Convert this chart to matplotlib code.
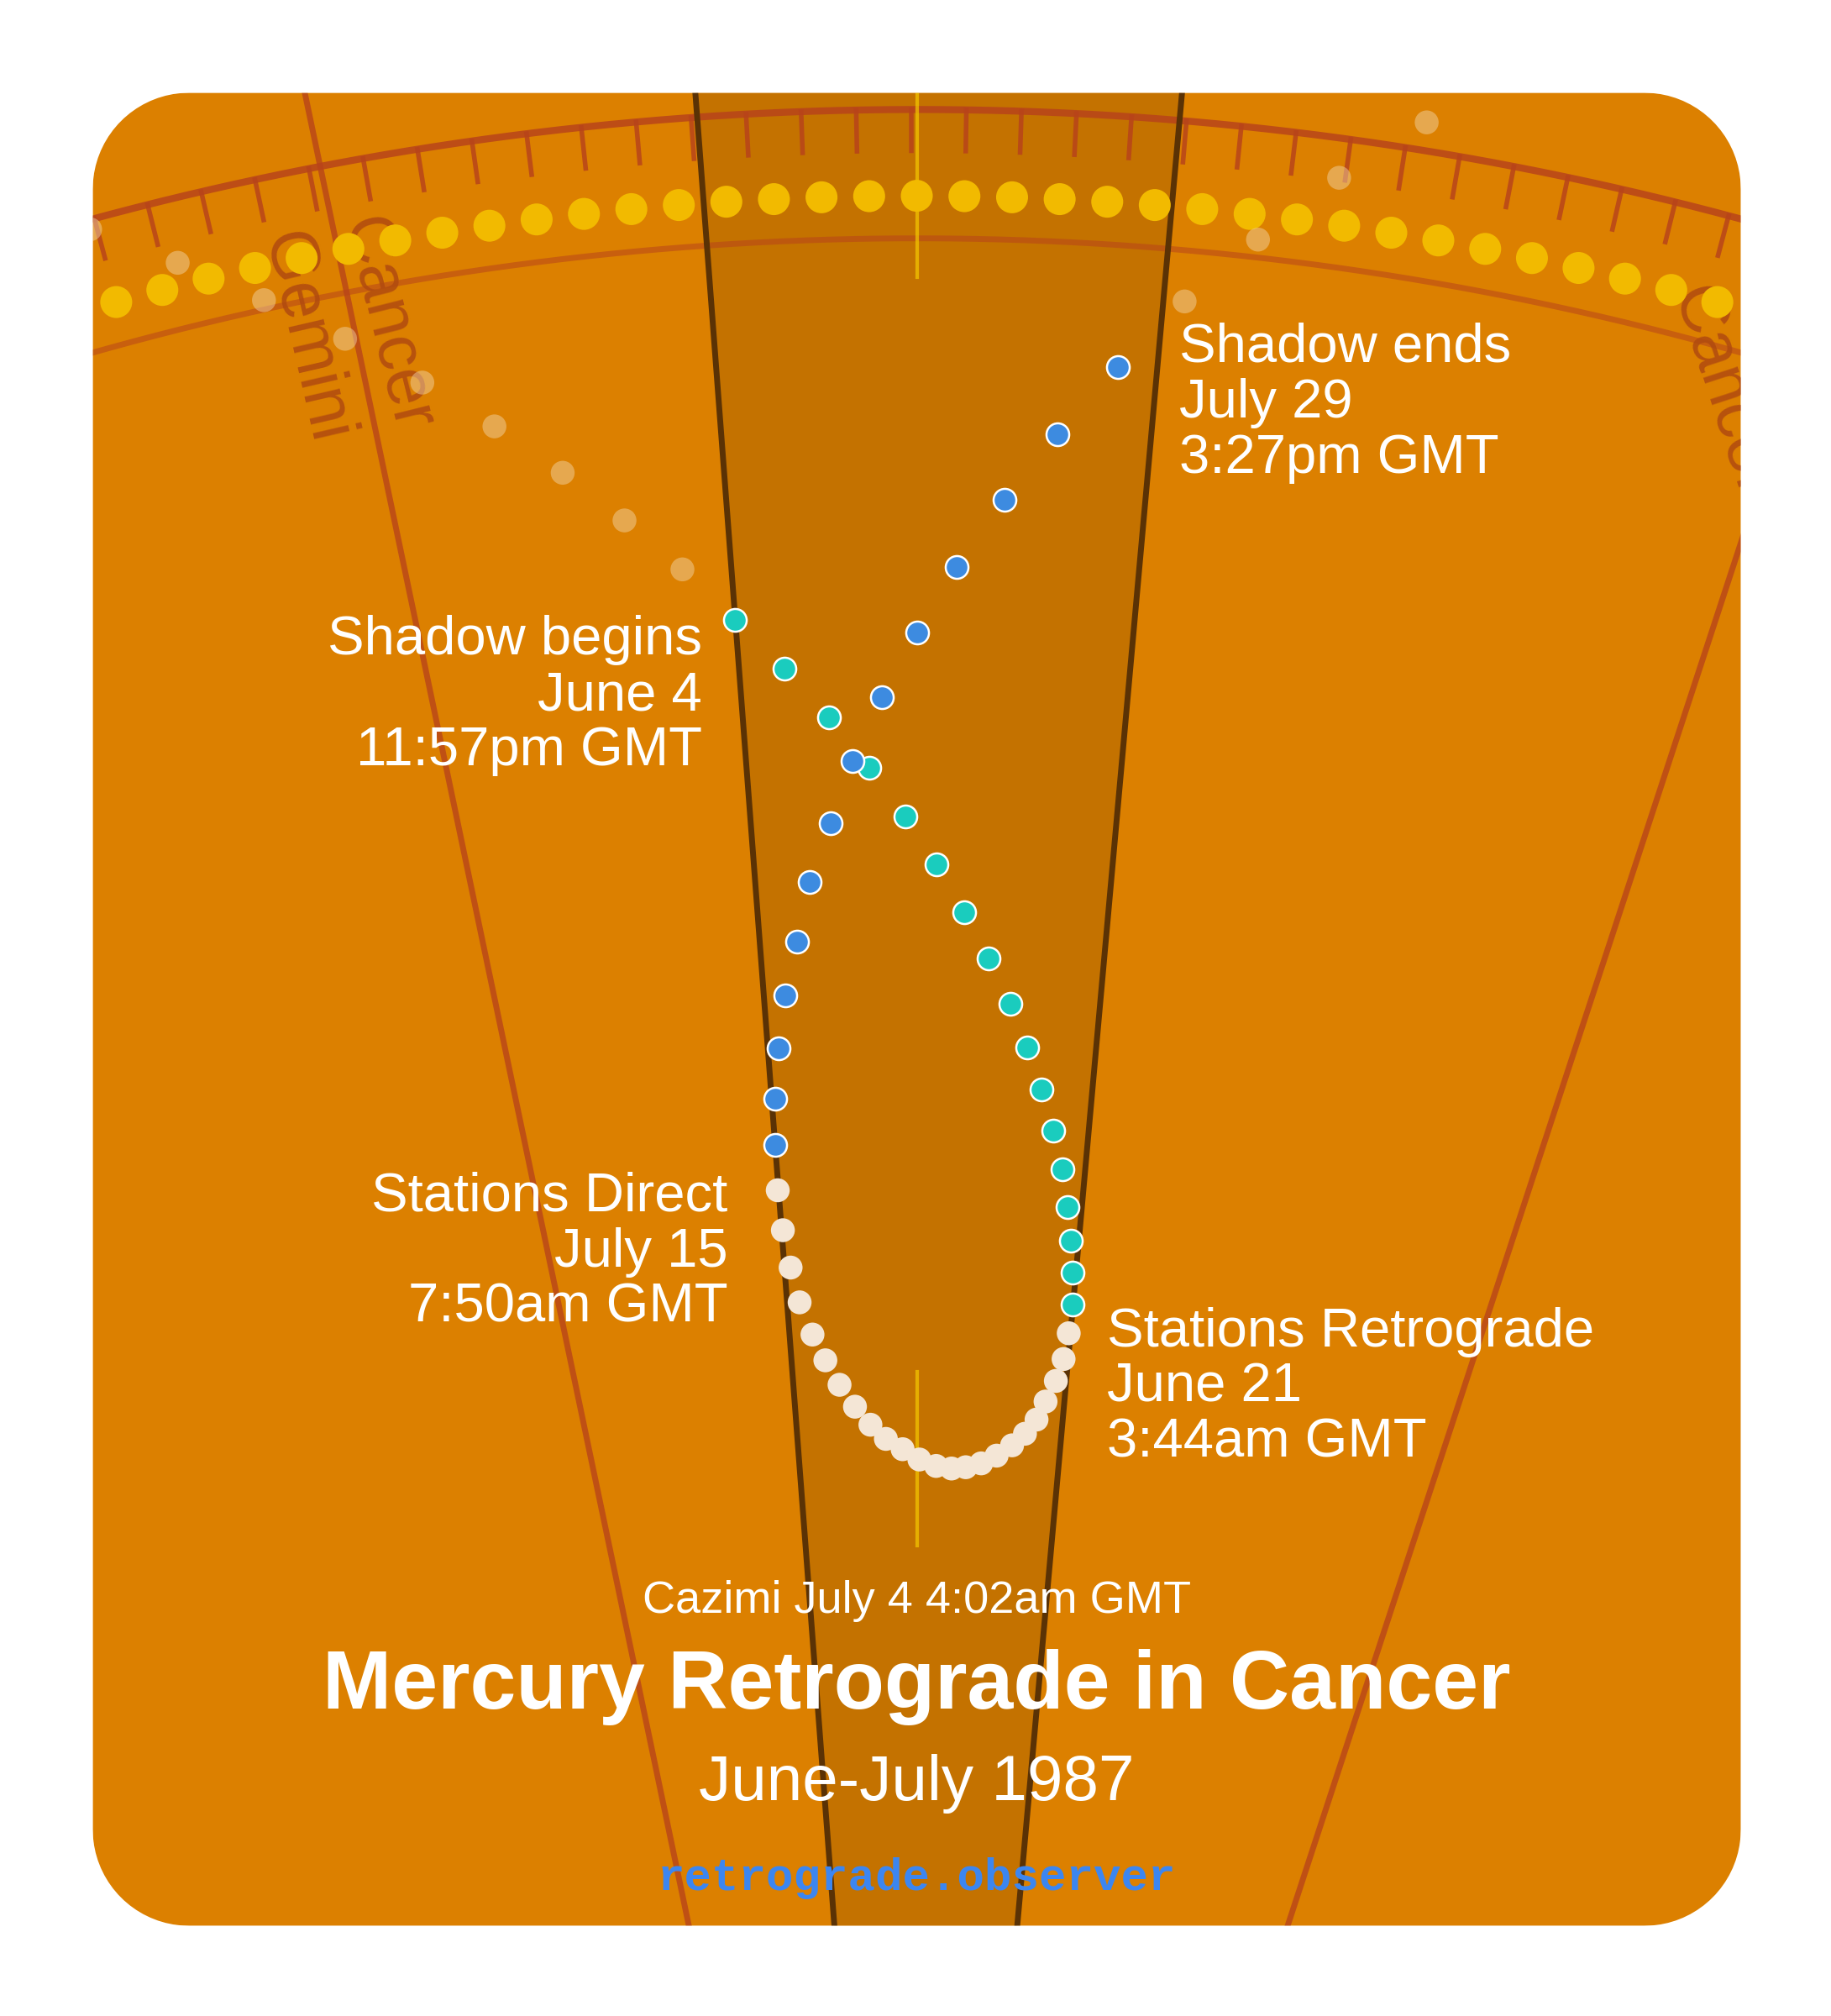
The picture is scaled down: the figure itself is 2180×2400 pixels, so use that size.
import numpy as np
import matplotlib
matplotlib.use("Agg")
import matplotlib.pyplot as plt
from matplotlib.patches import FancyBboxPatch, Polygon, PathPatch
from matplotlib.path import Path

plt.rcParams['font.family'] = ['Liberation Sans', 'DejaVu Sans']

# Mercury path (display coords of the chart)
pre_x = [70, 138, 205, 268, 328, 384, 437, 485, 530]
pre_y = [178, 204, 233, 263, 297, 331, 367, 404, 442]
post_x = [920, 977, 1040, 1108]
post_y = [234, 186, 138, 95]
teal_x = [571, 609, 644, 675, 703, 727, 749, 768, 785, 798, 809, 818, 825, 829, 832, 833, 833]
teal_y = [481, 519, 557, 596, 634, 671, 708, 744, 779, 813, 846, 878, 908, 937, 963, 988, 1013]
retro_x = [830, 826, 820, 812, 805, 796, 786, 774, 762, 750, 739, 727, 714, 701, 688, 676, 664, 652, 641, 631, 621, 614, 608, 604]
retro_y = [1035, 1055, 1072, 1088, 1102, 1113, 1122, 1130, 1136, 1139, 1140, 1138, 1133, 1125, 1117, 1106, 1092, 1075, 1056, 1036, 1011, 984, 955, 924]
blue_x = [602, 602, 605, 610, 619, 629, 645, 662, 685, 712, 743, 780, 821, 868]
blue_y = [889, 853, 814, 773, 731, 685, 639, 591, 541, 491, 440, 388, 337, 285]

labels = ["Shadow begins\nJune 4\n11:57pm GMT", "Shadow ends\nJuly 29\n3:27pm GMT",
          "Stations Direct\nJuly 15\n7:50am GMT", "Stations Retrograde\nJune 21\n3:44am GMT"]
title = "Mercury Retrograde in Cancer"
subtitle = "June-July 1987"
cazimi = "Cazimi July 4 4:02am GMT"

W, H = 1422, 1565
fig = plt.figure(figsize=(21.8, 24), dpi=100)
ax = fig.add_axes([0, 0, 1, 1])
ax.set_xlim(0, W); ax.set_ylim(H, 0); ax.axis('off')
fig.patch.set_facecolor('white')

bg = FancyBboxPatch((72, 72), 1280, 1423, boxstyle="round,pad=0,rounding_size=75",
                    fc='#DC8000', ec='none', zorder=0)
ax.add_patch(bg)
def clip(a):
    a.set_clip_on(True)
    a.set_clip_path(bg)
    return a

# white frame outside the rounded card (masks text overflow)
x0, y0, x1, y1, r = 72, 72, 1352, 1495, 75
pts = []
for (cx, cy, a0) in [(x1 - r, y0 + r, -90), (x1 - r, y1 - r, 0), (x0 + r, y1 - r, 90), (x0 + r, y0 + r, 180)]:
    for t in np.linspace(a0, a0 + 90, 20):
        pts.append((cx + r*np.cos(np.deg2rad(t)), cy + r*np.sin(np.deg2rad(t))))
inner = np.array(pts)[::-1]
outer = np.array([(-10, -10), (W + 10, -10), (W + 10, H + 10), (-10, H + 10)])
verts = np.vstack([outer, outer[:1], inner, inner[:1]])
codes = ([Path.MOVETO] + [Path.LINETO]*3 + [Path.CLOSEPOLY] +
         [Path.MOVETO] + [Path.LINETO]*(len(inner) - 1) + [Path.CLOSEPOLY])
ax.add_patch(PathPatch(Path(verts, codes), fc='white', ec='none', zorder=8.5))

CX, CY = 712, 2537
wedge = Polygon([(540, 72), (918, 72), (790, 1495), (648, 1495)], closed=True, fc='#C47200', ec='none', zorder=1)
ax.add_patch(wedge); clip(wedge)
for (xa, ya, xb, yb) in [(540, 72, 648, 1495), (918, 72, 790, 1495)]:
    clip(ax.plot([xa, xb], [ya, yb], color='#5A3205', lw=5, zorder=3)[0])
for (xa, ya, xb, yb) in [(230, 40, 535, 1495), (1400, 275, 1000, 1495)]:
    clip(ax.plot([xa, xb], [ya, yb], color='#B8441A', lw=5, alpha=0.8, zorder=2)[0])

R1, R2 = 2452, 2352
th = np.linspace(np.pi/2 - 0.4, np.pi/2 + 0.4, 400)
clip(ax.plot(CX + R1*np.cos(th), CY - R1*np.sin(th), color='#B8441A', lw=6, alpha=0.85, zorder=2)[0])
clip(ax.plot(CX + R2*np.cos(th), CY - R2*np.sin(th), color='#B8441A', lw=5, alpha=0.55, zorder=2)[0])
for d in np.arange(-20, 21):
    a = np.pi/2 + np.deg2rad(d) + np.deg2rad(0.1)
    ro, ri = R1, R1 - 32
    clip(ax.plot([CX + ro*np.cos(a), CX + ri*np.cos(a)], [CY - ro*np.sin(a), CY - ri*np.sin(a)],
                 color='#B8441A', lw=4, alpha=0.85, zorder=2)[0])

Rs = 2385
ang = np.pi/2 + np.arange(-18, 19) * (37.0 / Rs)
clip(ax.scatter(CX + Rs*np.cos(ang), CY - Rs*np.sin(ang), s=750, color='#F2BA00', ec='none', zorder=4))

clip(ax.plot([712, 712], [72, 215], color='#F5C800', lw=3, alpha=0.7, zorder=3)[0])
clip(ax.plot([712, 712], [1065, 1200], color='#F5C800', lw=3, alpha=0.7, zorder=3)[0])

zc = '#B04A10'
ax.text(300, 252, "Cancer", rotation=-76, color=zc, fontsize=58, alpha=0.85,
        ha='center', va='center', zorder=3, rotation_mode='anchor')
ax.text(237, 262, "Gemini", rotation=-77, color=zc, fontsize=58, alpha=0.85,
        ha='center', va='center', zorder=3, rotation_mode='anchor')
ax.text(1338, 305, "Cancer", rotation=-72, color=zc, fontsize=58, alpha=0.85,
        ha='center', va='center', zorder=3, rotation_mode='anchor')

clip(ax.scatter(pre_x + post_x, pre_y + post_y, s=420, color='#F3D9B0', alpha=0.45, ec='none', zorder=5))
ax.scatter(retro_x, retro_y, s=420, color='#F4E6D6', ec='none', zorder=6)
ax.scatter(teal_x, teal_y, s=380, color='#1ACCBE', ec='white', lw=1.8, zorder=7)
ax.scatter(blue_x, blue_y, s=380, color='#3D8BE0', ec='white', lw=1.8, zorder=8)

fs = 47
ls = 1.13
ax.text(545, 540, labels[0], ha='right', va='center', color='white', fontsize=fs, linespacing=ls, zorder=9)
ax.text(916, 313, labels[1], ha='left', va='center', color='white', fontsize=fs, linespacing=ls, zorder=9)
ax.text(565, 972, labels[2], ha='right', va='center', color='white', fontsize=fs, linespacing=ls, zorder=9)
ax.text(860, 1077, labels[3], ha='left', va='center', color='white', fontsize=fs, linespacing=ls, zorder=9)
ax.text(712, 1243, cazimi, ha='center', va='center', color='white', fontsize=39, zorder=9)
ax.text(712, 1310, title, ha='center', va='center', color='white', fontsize=71, fontweight='bold', zorder=9)
ax.text(712, 1385, subtitle, ha='center', va='center', color='white', fontsize=55, zorder=9)
ax.text(712, 1458, "retrograde.observer", ha='center', va='center', color='#3C86F0', fontsize=39,
        fontweight='bold', family=['Liberation Mono', 'DejaVu Sans Mono'], zorder=9)

fig.savefig('out.png', dpi=100, facecolor='white')
